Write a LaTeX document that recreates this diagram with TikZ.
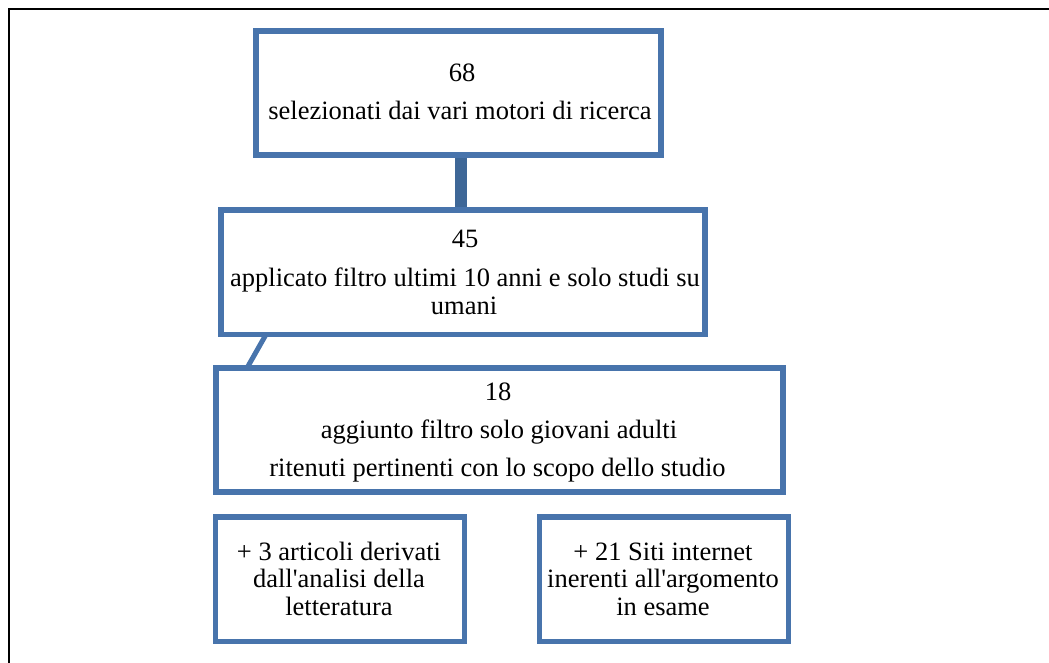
\documentclass[tikz,border=0pt]{standalone}
\usepackage{fontspec}
\setmainfont{Liberation Serif}
\usetikzlibrary{backgrounds}
\definecolor{boxblue}{HTML}{4874AC}
\definecolor{barblue}{HTML}{3E6797}
\tikzset{
  flowbox/.style={draw=boxblue, line width=5.5pt, inner sep=0pt, outer sep=0pt, rectangle},
  txt/.style={anchor=base, inner sep=0pt, outer sep=0pt, font=\fontsize{26.5}{30}\selectfont},
  thickbar/.style={draw=barblue, line width=11.5pt},
  thinbar/.style={draw=boxblue, line width=5pt}
}
\begin{document}
\begin{tikzpicture}[x=1pt,y=-1pt]
\useasboundingbox (0,0) rectangle (1049,663);
\clip (0,0) rectangle (1049,663);
\draw[line width=1.3pt, black] (9,9) rectangle (1070,690);

% boxes
\node[flowbox, minimum width=405pt, minimum height=124pt] (b1) at (458.5,93) {};
\node[flowbox, minimum width=484pt, minimum height=124.5pt] (b2) at (463,272.25) {};
\node[flowbox, minimum width=567pt, minimum height=124pt] (b3) at (499.5,430) {};
\node[flowbox, minimum width=249pt, minimum height=124.5pt] (b4) at (340,579) {};
\node[flowbox, minimum width=249pt, minimum height=124.5pt] (b5) at (664,579) {};

% connectors
\begin{scope}[on background layer]
\draw[thickbar] ([xshift=2.5pt]b1.south) -- ([xshift=2.5pt]b1.south |- b2.north);
\draw[thinbar] ([xshift=45pt]b2.south west) -- ([xshift=31pt]b3.north west);
\end{scope}

% texts
\node[txt] (t1a) at (462,82) {68};
\node[txt] (t1b) at (460,120) {selezionati dai vari motori di ricerca};
\node[txt] (t2a) at (465,247) {45};
\node[txt] (t2b) at (465,286) {applicato filtro ultimi 10 anni e solo studi su};
\node[txt] (t2c) at (464,314) {umani};
\node[txt] (t3a) at (498,400) {18};
\node[txt] (t3b) at (499,438) {aggiunto filtro solo giovani adulti};
\node[txt] (t3c) at (497.5,476) {ritenuti pertinenti con lo scopo dello studio};
\node[txt] (t4a) at (339,560) {+ 3 articoli derivati};
\node[txt] (t4b) at (339,587) {dall\textquotesingle analisi della};
\node[txt] (t4c) at (339,615) {letteratura};
\node[txt] (t5a) at (663,560) {+ 21 Siti internet};
\node[txt] (t5b) at (663,587) {inerenti all\textquotesingle argomento};
\node[txt] (t5c) at (663,615) {in esame};
\end{tikzpicture}
\end{document}
